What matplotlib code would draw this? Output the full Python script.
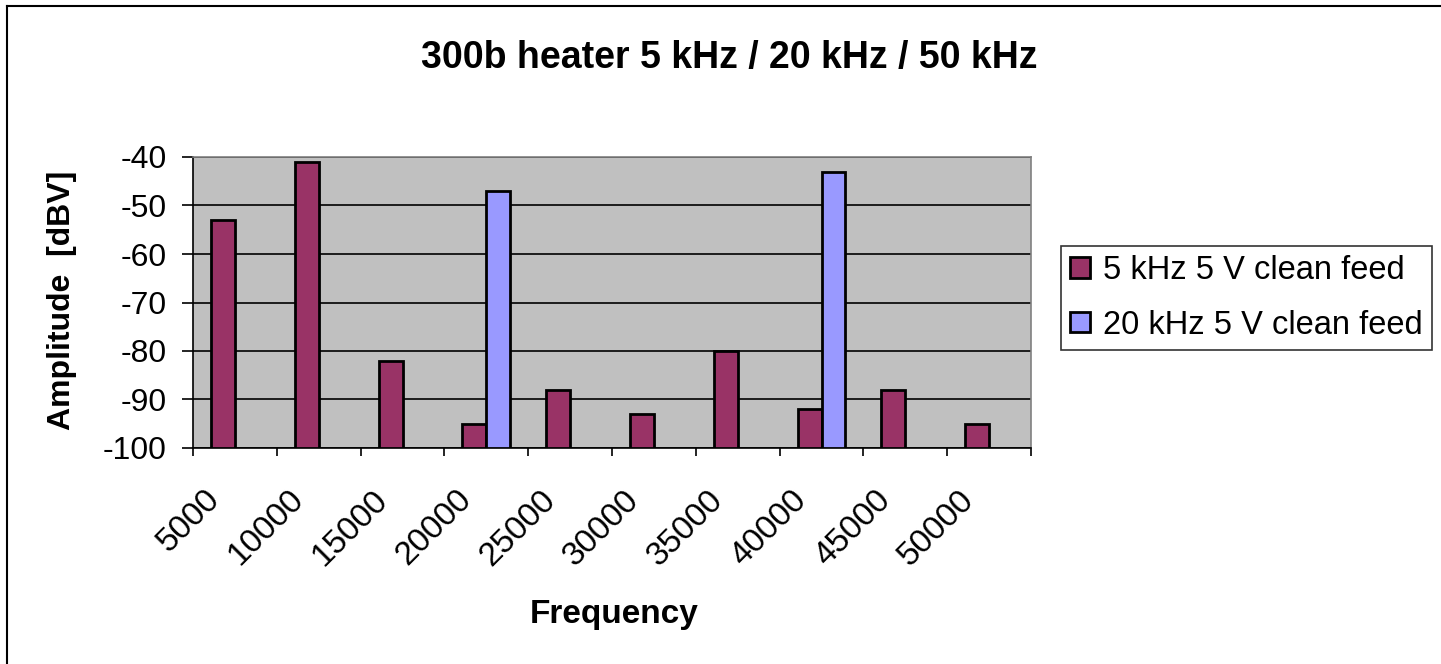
import numpy as np
import matplotlib
matplotlib.use("Agg")
import matplotlib.pyplot as plt
from matplotlib.lines import Line2D

plt.rcParams["font.family"] = ["Liberation Sans", "DejaVu Sans"]
plt.rcParams["axes.unicode_minus"] = False

freqs = ["5000", "10000", "15000", "20000", "25000",
         "30000", "35000", "40000", "45000", "50000"]
feed_5k = [-53, -41, -82, -95, -88, -93, -80, -92, -88, -95]
feed_20k = [np.nan, np.nan, np.nan, -47, np.nan, np.nan, np.nan, -43, np.nan, np.nan]
series_names = ["5 kHz 5 V clean feed", "20 kHz 5 V clean feed"]
base = -100

W, H = 1441, 664
fig = plt.figure(figsize=(W / 100, H / 100), dpi=100)
fig.patch.set_facecolor("white")

# chart-area border (left and top edges)
fig.add_artist(Line2D([7 / W, 7 / W], [0, 1 - 6 / H], transform=fig.transFigure,
                      color="black", linewidth=1.5))
fig.add_artist(Line2D([7 / W, 1], [1 - 6 / H, 1 - 6 / H], transform=fig.transFigure,
                      color="black", linewidth=1.5))

ax = fig.add_axes([193 / W, 1 - 448 / H, 838 / W, 291 / H])
ax.set_facecolor("#c0c0c0")

x = np.arange(len(freqs))
w = 1 / 3.5  # 150% gap width, two series
h1 = np.array(feed_5k, dtype=float) - base
h2 = np.array(feed_20k, dtype=float) - base
b1 = ax.bar(x - w / 2, h1, w, bottom=base, color="#993366", edgecolor="black",
            linewidth=2, zorder=3, label=series_names[0])
b2 = ax.bar(x + w / 2, h2, w, bottom=base, color="#9999ff", edgecolor="black",
            linewidth=2, zorder=3, label=series_names[1])

ax.set_xlim(-0.5, len(freqs) - 0.5)
ax.set_ylim(-100, -40)
ax.set_yticks(np.arange(-100, -39, 10))
ax.yaxis.grid(True, color="black", linewidth=1.2, zorder=1)
ax.tick_params(axis="y", direction="out", length=8, width=1.2, labelsize=23, pad=11)

ax.set_xticks(np.arange(-0.5, len(freqs), 1))
ax.set_xticklabels([])
ax.tick_params(axis="x", direction="out", length=6, width=1.2)
for xi, lab in zip(x, freqs):
    ax.annotate(lab, (xi, 0), xycoords=("data", "axes fraction"),
                xytext=(-22, -26), textcoords="offset points",
                rotation=45, ha="right", va="top", rotation_mode="anchor",
                fontsize=24)

for side in ["top", "right"]:
    ax.spines[side].set_color("#808080")
    ax.spines[side].set_linewidth(1.2)
for side in ["left", "bottom"]:
    ax.spines[side].set_color("black")
    ax.spines[side].set_linewidth(1.2)

fig.text(0.506, 1 - 68 / H, "300b heater 5 kHz / 20 kHz / 50 kHz", ha="center",
         va="baseline", fontsize=27, fontweight="bold")
fig.text(0.426, 1 - 623 / H, "Frequency", ha="center", va="baseline", fontsize=24,
         fontweight="bold")
fig.text(0.043, 0.548, "Amplitude  [dBV]", ha="center", va="center",
         rotation=90, fontsize=23, fontweight="bold")

leg = fig.legend(handles=[b1, b2], loc="upper left",
                 bbox_to_anchor=(1061 / W, 1 - 246 / H),
                 fontsize=23.5, frameon=True, fancybox=False, edgecolor="black",
                 handlelength=0.6, handleheight=0.6, handletextpad=0.4,
                 borderpad=0.28, labelspacing=0.72, borderaxespad=0)
leg.get_frame().set_linewidth(1.2)

fig.savefig("out.png", dpi=100)
